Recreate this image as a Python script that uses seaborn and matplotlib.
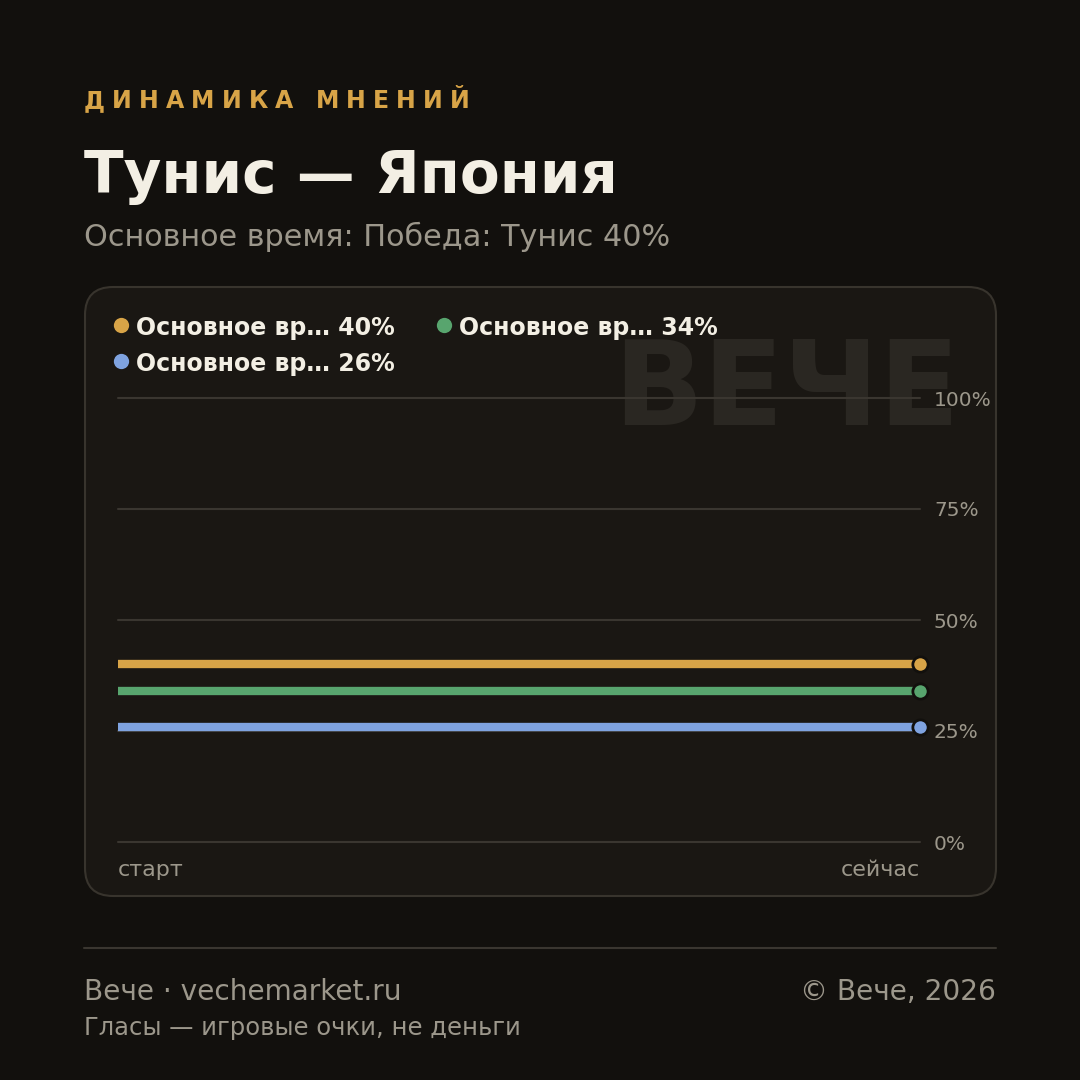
import numpy as np
import pandas as pd
import matplotlib
matplotlib.use("Agg")
import matplotlib.pyplot as plt
from matplotlib.patches import FancyBboxPatch
from matplotlib.lines import Line2D
import seaborn as sns

# --- data ---
positions = ["старт", "сейчас"]
series_labels = ["Основное вр… 40%", "Основное вр… 34%", "Основное вр… 26%"]
series_values = [[40, 40], [34, 34], [26, 26]]
series_colors = ["#d8a447", "#58a56e", "#7fa3e0"]
y_ticks = [0, 25, 50, 75, 100]
y_tick_labels = ["0%", "25%", "50%", "75%", "100%"]

eyebrow = "ДИНАМИКА МНЕНИЙ"
title = "Тунис — Япония"
subtitle = "Основное время: Победа: Тунис 40%"
watermark = "ВЕЧЕ"
footer_left = "Вече · vechemarket.ru"
footer_right = "© Вече, 2026"
footer_note = "Гласы — игровые очки, не деньги"

BG = "#12100d"
CARD = "#1a1713"
CARD_EDGE = "#38342d"
GRID = "#3a3630"
MUTED = "#9c978b"
WHITE = "#f3efe4"
GOLD = "#d8a447"

rows = []
for lab, vals in zip(series_labels, series_values):
    for i, v in enumerate(vals):
        rows.append({"series": lab, "pos": i, "value": v})
df = pd.DataFrame(rows)

sns.set_theme(style="dark")
plt.rcParams["font.family"] = ["DejaVu Sans"]

W = H = 1080
fig = plt.figure(figsize=(10.8, 10.8), dpi=100, facecolor=BG)


def fx(x):
    return x / W


def fy(y):
    return 1 - y / H


# card
card = FancyBboxPatch((fx(85), fy(896)), fx(996) - fx(85), fy(287) - fy(896),
                      boxstyle="round,pad=0,rounding_size=0.026",
                      transform=fig.transFigure, facecolor=CARD,
                      edgecolor=CARD_EDGE, linewidth=1.5, zorder=0)
fig.patches.append(card)

# watermark
fig.text(fx(960), fy(425), watermark, ha="right", va="baseline",
         fontsize=85, fontweight="bold", color="#2a2722", zorder=1)

# axes
ax = fig.add_axes([fx(118), fy(842), fx(920) - fx(118), fy(398) - fy(842)])
ax.set_zorder(2)
ax.patch.set_alpha(0)
sns.lineplot(data=df, x="pos", y="value", hue="series",
             palette=dict(zip(series_labels, series_colors)),
             linewidth=6, legend=False, ax=ax, solid_capstyle="butt")
for lab, vals, col in zip(series_labels, series_values, series_colors):
    ax.plot([1], [vals[-1]], marker="o", markersize=11, color=col,
            markeredgecolor=BG, markeredgewidth=2, clip_on=False, zorder=5)

ax.set_xlim(0, 1)
ax.set_ylim(0, 100)
ax.set_yticks(y_ticks)
ax.set_yticklabels(y_tick_labels)
ax.yaxis.tick_right()
ax.tick_params(axis="y", length=0, pad=10, labelsize=14.5, labelcolor=MUTED)
ax.set_xticks([0, 1])
ax.set_xticklabels(positions)
ax.tick_params(axis="x", length=0, pad=13, labelsize=16, labelcolor=MUTED)
xl = ax.get_xticklabels()
xl[0].set_ha("left")
xl[1].set_ha("right")
ax.grid(axis="y", color=GRID, linewidth=1.5)
ax.grid(axis="x", visible=False)
ax.set_xlabel("")
ax.set_ylabel("")
for s in ax.spines.values():
    s.set_visible(False)
for ln in ax.get_ygridlines():
    ln.set_zorder(0)
    ln.set_clip_on(False)

# legend (manual, row-major)
leg_pos = [(121, 325), (444, 325), (121, 361)]
for (lx, ly), lab, col in zip(leg_pos, series_labels, series_colors):
    fig.add_artist(Line2D([fx(lx)], [fy(ly)], marker="o", markersize=11,
                          color=col, markeredgewidth=0,
                          transform=fig.transFigure))
    fig.text(fx(lx + 15), fy(ly), lab, ha="left", va="center_baseline",
             fontsize=17, fontweight="bold", color=WHITE)

# header texts
renderer = fig.canvas.get_renderer()
x = 84
for ch in eyebrow:
    t = fig.text(fx(x), fy(108), ch, ha="left", va="baseline",
                 fontsize=17, fontweight="bold", color=GOLD)
    w = t.get_window_extent(renderer).width
    x += w + 7.1

fig.text(fx(84), fy(193), title, ha="left", va="baseline",
         fontsize=41.8, fontweight="bold", color=WHITE)
fig.text(fx(84), fy(246), subtitle, ha="left", va="baseline",
         fontsize=21.8, color=MUTED)

# footer
fig.add_artist(Line2D([fx(84), fx(996)], [fy(948), fy(948)], color=GRID,
                      linewidth=1.5, transform=fig.transFigure))
fig.text(fx(84), fy(1000), footer_left, ha="left", va="baseline",
         fontsize=20.2, color=MUTED)
fig.text(fx(996), fy(1000), footer_right, ha="right", va="baseline",
         fontsize=20.2, color=MUTED)
fig.text(fx(84), fy(1035), footer_note, ha="left", va="baseline",
         fontsize=17.5, color=MUTED)

fig.savefig("out.png", dpi=100, facecolor=BG)
